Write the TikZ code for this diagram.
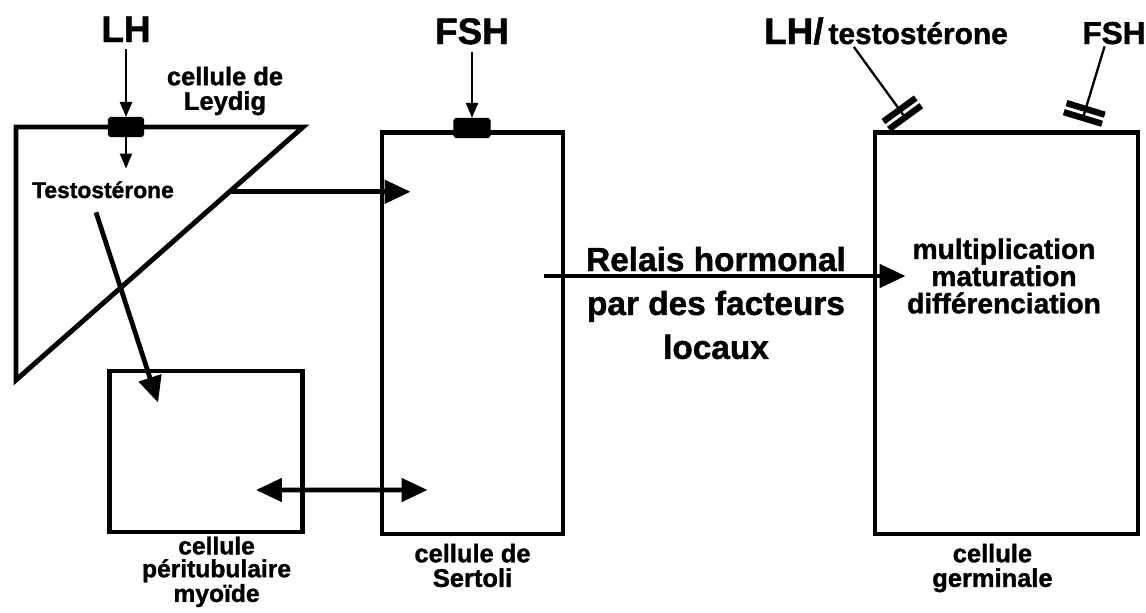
\documentclass[tikz,border=0pt]{standalone}
\usepackage{fontspec}
\setmainfont{Liberation Sans}[BoldFeatures={FakeBold=1.3}]
\usetikzlibrary{arrows.meta, positioning, calc}

\begin{document}
\begin{tikzpicture}[
  x=0.02cm, y=-0.02cm,
  every node/.style={font=\bfseries, inner sep=1pt},
  lbl/.style={align=center, font=\bfseries\fontsize{14.5}{14}\selectfont},
  big/.style={font=\bfseries\fontsize{21}{21}\selectfont},
  cellbox/.style={draw, line width=2.8pt, inner sep=0pt},
  rec/.style={draw, fill=black, line width=0.6pt, minimum width=0.7cm, minimum height=0.38cm,
              inner sep=0pt, rounded corners=1pt},
  arr/.style={-{Triangle[length=0.3cm,width=0.24cm]}, line width=1.3pt},
  bigarr/.style={-{Triangle[length=0.52cm,width=0.46cm]}, line width=2.7pt},
  inhib/.style={line width=1.3pt,
                -{Bar[width=0.8cm,line width=3.6pt,sep=1.8pt]Bar[width=0.8cm,line width=3.6pt]}}
]
\useasboundingbox (0,0) rectangle (1146,612);

\coordinate (leytl) at (16,127);
\coordinate (leytr) at (303,127);
\coordinate (leybl) at (16,380);
\draw[line width=2.8pt] (leytl) -- (leytr) -- (leybl) -- cycle;

\node[cellbox, minimum width=3.86cm, minimum height=3.22cm] (peri) at (206,451.5) {};
\node[cellbox, minimum width=3.62cm, minimum height=8.04cm] (sertoli) at (472.5,333) {};
\node[cellbox, minimum width=5.26cm, minimum height=8.04cm] (germ) at (1006.5,333) {};

\node[big, anchor=base] (lh) at (126,42) {LH};
\node[rec] (lhrec) at (126,127) {};
\node[font=\bfseries\fontsize{13}{13}\selectfont, anchor=base] (testo) at (103,198) {Testostérone};
\node[lbl] (leylbl) at (225,91) {cellule de\\Leydig};

\node[big, anchor=base] (fsh) at (472,44) {FSH};
\node[rec, minimum width=0.72cm] (fshrec) at (472,128) {};

\node[anchor=base] (lhtesto) at (886,44)
  {{\fontsize{21}{21}\selectfont LH/} {\fontsize{17}{17}\selectfont testostérone}};
\node[font=\bfseries\fontsize{18}{18}\selectfont, anchor=base] (fshb) at (1114,44) {FSH};
\coordinate (lhinh) at (907,120);
\coordinate (fshinh) at (1082,121);

\node[align=center, font=\bfseries\fontsize{19}{25}\selectfont] (relais) at (716,303)
  {Relais hormonal\\par des facteurs\\locaux};
\node[align=center, font=\bfseries\fontsize{16}{15.5}\selectfont] (germtxt) at (1004,276)
  {multiplication\\maturation\\différenciation};

\node[lbl, font=\bfseries\fontsize{14}{13}\selectfont, below=0pt of peri, xshift=6] (perilbl)
  {cellule\\péritubulaire\\myoïde};
\node[lbl, below=3pt of sertoli] (sertlbl) {cellule de\\Sertoli};
\node[lbl, below=3pt of germ, xshift=-8] (germlbl) {cellule\\germinale};

\draw[arr, shorten <=3pt] (lh) -- (lhrec);
\draw[arr, shorten >=6pt] (lhrec.south) -- (lhrec.south |- testo.north);
\draw[arr, shorten <=3pt] (fsh) -- (fshrec);

\coordinate (leyout) at ($(leytr)!0.256!(leybl)$);
\draw[bigarr] (leyout) -- ($(sertoli.west |- leyout)+(31,0)$);
\draw[bigarr] ([shift={(-7,12)}]testo.south) -- ($(peri.north west)+(51,34)$);
\draw[bigarr, {Triangle[length=0.52cm,width=0.46cm]}-{Triangle[length=0.52cm,width=0.46cm]}]
  ($(peri.east)+(-49,38.5)$) -- ($(sertoli.west)+(48,157)$);
\draw[bigarr] ($(sertoli.east)+(-21,-57)$) -- ($(germ.west)+(33,-57)$);

\draw[inhib] ($(lhtesto.south west)!0.37!(lhtesto.south east)$) -- (lhinh);
\draw[inhib] ($(fshb.south west)!0.36!(fshb.south east)$) -- (fshinh);
\end{tikzpicture}
\end{document}
